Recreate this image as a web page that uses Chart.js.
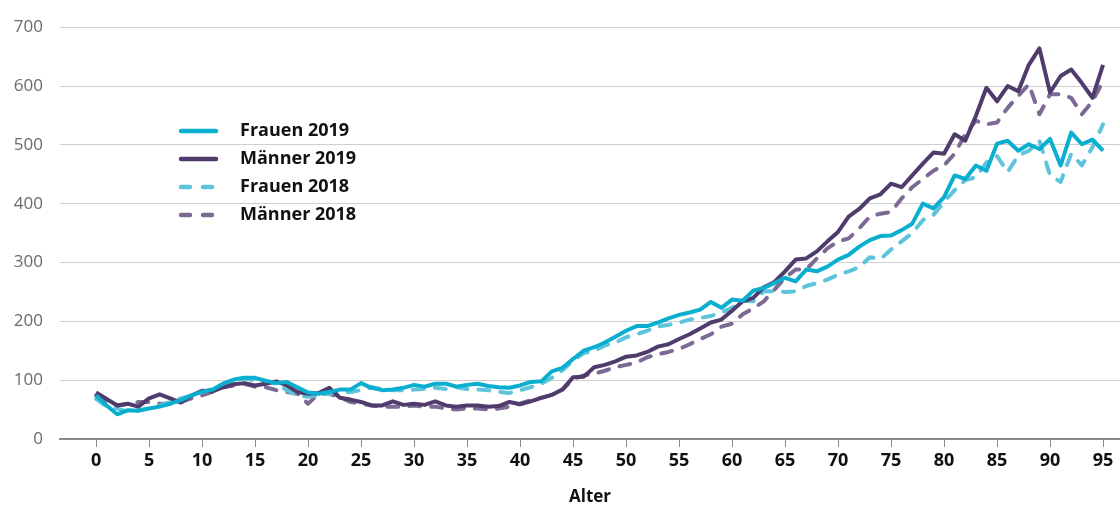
<!DOCTYPE html>
<html>
<head>
<meta charset="utf-8">
<script src="https://cdn.jsdelivr.net/npm/chart.js@4"></script>
<style>
  html, body { margin: 0; padding: 0; background: #fff; }
  #wrap { width: 1120px; height: 507px; position: relative; }
</style>
</head>
<body>
<div id="wrap"><canvas id="chart"></canvas></div>
<script>
// Alter 0..95
const ages = [];
for (let a = 0; a <= 95; a++) ages.push(a);

const frauen2019 = [74,57,42,49,48,52,55,60,66,74,80,84,94,101,104,104,99,95,97,88,
  79,77,80,84,84,95,87,83,84,87,92,89,94,94,89,92,94,90,88,87,
  91,97,98,115,121,136,150,156,164,174,184,192,192,198,205,211,215,220,233,223,
  237,235,252,257,265,274,268,288,285,293,305,313,327,338,345,346,355,366,400,392,
  411,448,442,465,456,502,507,490,501,493,510,465,521,501,509,490];

const maenner2019 = [79,68,57,60,55,69,76,69,62,74,82,81,88,93,95,91,94,98,91,80,
  77,78,87,70,67,63,57,57,64,58,60,58,64,57,55,57,57,55,56,63,
  59,64,70,75,84,105,106,122,126,132,140,142,148,157,161,170,178,188,198,203,
  218,234,240,258,267,285,305,307,319,336,352,378,391,409,416,434,428,448,468,487,
  485,518,507,549,597,574,600,591,636,664,589,617,628,605,580,636];

const frauen2018 = [68,55,52,46,49,52,57,63,69,74,80,85,94,101,103,100,97,94,83,74,
  72,74,77,80,80,83,88,85,83,83,84,85,87,85,88,85,84,83,80,78,
  83,88,94,104,117,133,146,150,159,164,173,178,184,191,194,198,203,206,209,215,
  223,235,234,251,251,250,251,260,265,271,279,285,292,309,306,322,336,350,372,381,
  403,423,440,445,470,481,454,482,490,507,448,437,485,465,496,535];

const maenner2018 = [74,63,57,60,63,63,60,60,63,69,74,80,88,91,94,89,88,83,80,77,
  60,77,77,71,63,60,57,55,55,55,57,55,55,52,50,52,52,50,52,55,
  60,66,70,75,84,102,108,111,116,122,126,130,139,144,148,153,161,170,178,191,
  196,212,222,234,254,274,288,288,307,324,336,341,358,378,383,386,409,428,442,456,
  465,485,518,541,535,538,563,583,603,552,586,586,580,552,574,608];

const seriesNames = ['Frauen 2019', 'Männer 2019', 'Frauen 2018', 'Männer 2018'];
const seriesColors = ['#0aafd0', '#4f3c6c', '#5ec4dc', '#7c6a94'];
const xTicks = [0,5,10,15,20,25,30,35,40,45,50,55,60,65,70,75,80,85,90,95];
const yTicks = [0,100,200,300,400,500,600,700];

const toPoints = arr => arr.map((v, i) => ({ x: ages[i], y: v }));

// Legende links im Diagramm
const legendPlugin = {
  id: 'ownLegend',
  afterDraw(chart) {
    const ctx = chart.ctx;
    ctx.save();
    chart.data.datasets.forEach((ds, i) => {
      const y = 131 + i * 28;
      ctx.strokeStyle = ds.borderColor;
      ctx.lineWidth = 4.5;
      ctx.lineCap = 'round';
      ctx.setLineDash(ds.borderDash && ds.borderDash.length ? [9, 13] : []);
      ctx.beginPath();
      ctx.moveTo(181, y);
      ctx.lineTo(216, y);
      ctx.stroke();
      ctx.setLineDash([]);
      ctx.fillStyle = '#111';
      ctx.font = 'bold 18px "Open Sans"';
      ctx.textBaseline = 'middle';
      ctx.fillText(ds.label, 240, y);
    });
    ctx.restore();
  }
};

const datasets = [frauen2019, maenner2019, frauen2018, maenner2018].map((arr, i) => ({
  label: seriesNames[i],
  data: toPoints(arr),
  borderColor: seriesColors[i],
  backgroundColor: seriesColors[i],
  borderWidth: 4,
  borderDash: i >= 2 ? [11, 11] : [],
  borderCapStyle: i >= 2 ? 'round' : 'butt',
  borderJoinStyle: 'round',
  pointRadius: 0,
  tension: 0,
  fill: false
}));

new Chart(document.getElementById('chart'), {
  type: 'line',
  data: { datasets },
  options: {
    responsive: true,
    maintainAspectRatio: false,
    animation: false,
    layout: { padding: { top: 24, right: 0, left: 0, bottom: 0 } },
    scales: {
      x: {
        type: 'linear',
        min: -3.4,
        max: 96.6,
        afterBuildTicks: s => { s.ticks = xTicks.map(v => ({ value: v })); },
        afterFit: s => { s.height = 68; },
        grid: { drawOnChartArea: false, drawTicks: true, tickLength: 8, color: '#8a8a8a', lineWidth: 1 },
        border: { display: true, color: '#8a8a8a', width: 2 },
        ticks: { color: '#111', font: { family: 'Open Sans', size: 18, weight: 'bold' }, padding: 3, maxRotation: 0 },
        title: { display: true, text: 'Alter', color: '#111', font: { family: 'Open Sans', size: 17, weight: 'bold' }, padding: { top: 10, bottom: 0 } }
      },
      y: {
        min: 0,
        max: 700,
        afterBuildTicks: s => { s.ticks = yTicks.map(v => ({ value: v })); },
        afterFit: s => { s.width = 60; },
        grid: { color: c => c.tick.value === 0 ? 'rgba(0,0,0,0)' : '#cfcfcf', lineWidth: 1, drawTicks: false },
        border: { display: false },
        ticks: { color: '#6a6a6a', font: { family: 'Open Sans', size: 17 }, padding: 17 }
      }
    },
    plugins: {
      legend: { display: false },
      tooltip: { enabled: false }
    }
  },
  plugins: [legendPlugin]
});
</script>
</body>
</html>
